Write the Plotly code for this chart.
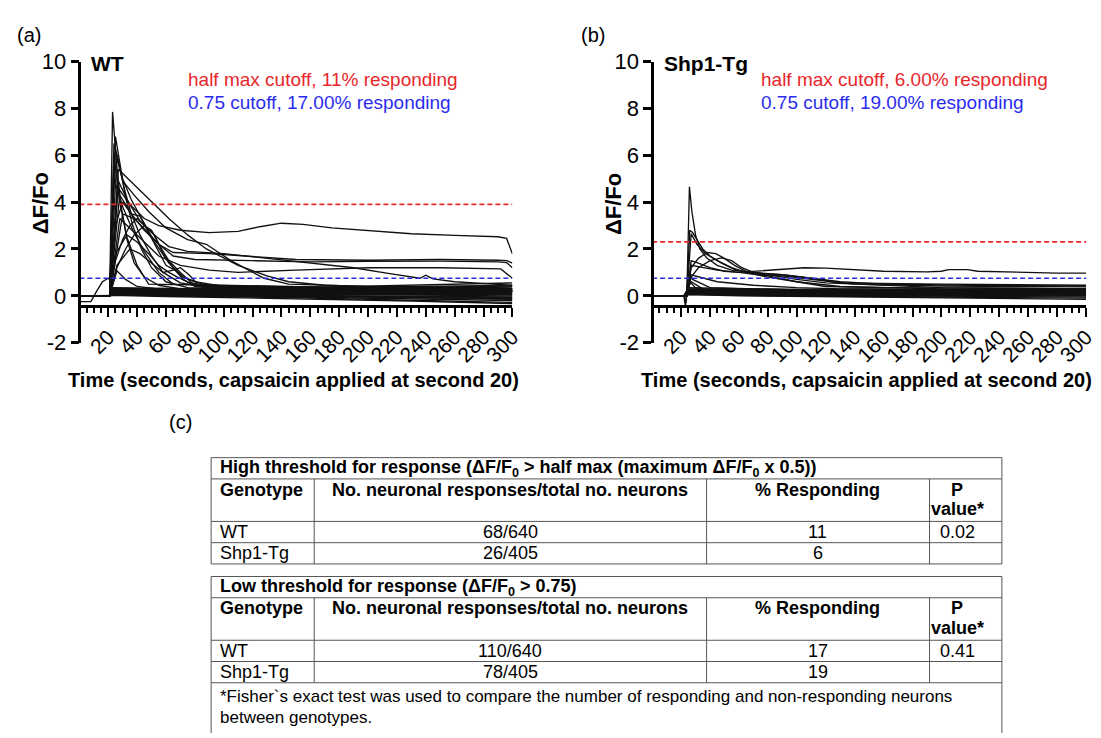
import plotly.graph_objects as go

W, H = 1101, 738

# ---------------- DATA ----------------
x_ticks = list(range(20, 301, 20))
y_ticks = [-2, 0, 2, 4, 6, 8, 10]
y_tick_labels = ["-2", "0", "2", "4", "6", "8", "10"]

panel_labels = ["(a)", "(b)", "(c)"]
genotype_titles = ["WT", "Shp1-Tg"]
half_max_text = ["half max cutoff, 11% responding", "half max cutoff, 6.00% responding"]
low_cut_text = ["0.75 cutoff, 17.00% responding", "0.75 cutoff, 19.00% responding"]
half_max_cutoff = [3.9, 2.3]
low_cutoff = [0.75, 0.75]

# WT responding traces (time s, dF/F0)
wt_resp_t = [
    [0, 21, 23, 26, 29, 33, 38, 45, 55, 70, 100, 150, 200, 250, 300],
    [0, 21, 25, 28, 32, 37, 43, 50, 60, 75, 120, 200, 300],
    [0, 21, 24, 27, 31, 36, 42, 50, 58, 70, 90, 150, 300],
    [0, 21, 25, 30, 36, 44, 52, 62, 72, 85, 110, 200, 300],
    [0, 21, 27, 32, 40, 50, 62, 75, 88, 110, 130, 145, 170, 220, 300],
    [0, 21, 26, 30, 38, 48, 60, 75, 88, 105, 128, 145, 200, 300],
    [0, 21, 27, 35, 45, 55, 70, 90, 110, 125, 140, 155, 175, 200, 230, 260, 290, 296, 300],
    [0, 21, 28, 36, 45, 55, 65, 90, 110, 130, 150, 200, 250, 290, 296, 300],
    [0, 21, 30, 38, 46, 55, 65, 80, 120, 160, 200, 250, 290, 296, 300],
    [0, 21, 28, 35, 45, 55, 70, 90, 110, 150, 200, 250, 292, 300],
    [0, 21, 27, 34, 42, 52, 62, 75, 100, 130, 160, 190, 215, 236, 240, 245, 260, 290, 300],
    [0, 21, 25, 30, 35, 40, 45, 52, 58, 65, 72, 80, 100, 200, 300],
    [0, 21, 26, 32, 38, 45, 50, 56, 62, 70, 78, 90, 150, 300],
    [0, 21, 25, 33, 40, 48, 55, 62, 68, 75, 85, 200, 300],
    [0, 21, 26, 35, 42, 50, 58, 65, 70, 76, 82, 100, 300],
    [0, 21, 26, 32, 40, 60, 300],
    [0, 8, 12, 16, 20, 21, 22, 40, 100, 200, 300],
    [0, 21, 25, 30, 36, 42, 48, 54, 60, 66, 72, 80, 100, 300],
    [0, 21, 24, 28, 33, 40, 48, 300],
    [0, 21, 24, 30, 37, 45, 55, 65, 300],
]
wt_resp_v = [
    [0, 0, 7.85, 5.5, 3.8, 2.4, 1.4, 0.8, 0.45, 0.3, 0.25, 0.2, 0.15, 0.1, 0.05],
    [0, 0, 6.8, 5.6, 4.2, 3.0, 2.0, 1.2, 0.6, 0.35, 0.3, 0.25, 0.2],
    [0, 0, 6.5, 5.8, 4.6, 3.5, 2.6, 1.7, 1.0, 0.55, 0.35, 0.3, 0.25],
    [0, 0, 6.2, 5.0, 4.1, 3.2, 2.3, 1.4, 0.8, 0.5, 0.35, 0.3, 0.2],
    [0, 0, 5.4, 5.1, 4.6, 4.0, 3.3, 2.6, 2.0, 1.3, 0.85, 0.6, 0.45, 0.35, 0.3],
    [0, 0, 5.9, 4.9, 4.3, 3.6, 2.9, 2.4, 2.2, 1.5, 0.75, 0.5, 0.4, 0.3],
    [0, 0, 4.6, 3.9, 3.3, 3.0, 2.8, 2.7, 2.75, 2.95, 3.1, 3.05, 2.9, 2.78, 2.65, 2.58, 2.52, 2.45, 1.8],
    [0, 0, 4.3, 3.5, 2.8, 2.2, 1.85, 1.8, 1.72, 1.62, 1.55, 1.52, 1.55, 1.52, 1.5, 1.4],
    [0, 0, 3.5, 3.3, 2.8, 2.2, 1.7, 1.55, 1.5, 1.45, 1.47, 1.48, 1.45, 1.42, 1.2],
    [0, 0, 3.3, 2.9, 2.3, 1.7, 1.3, 1.1, 1.0, 1.1, 1.2, 1.2, 1.15, 0.75],
    [0, 0, 4.9, 4.0, 3.2, 2.6, 2.1, 1.9, 1.8, 1.6, 1.4, 1.2, 0.95, 0.75, 0.88, 0.72, 0.6, 0.5, 0.45],
    [0, 0, 1.5, 2.4, 3.0, 3.3, 3.0, 2.6, 1.8, 1.2, 0.7, 0.4, 0.3, 0.25, 0.2],
    [0, 0, 1.2, 2.0, 2.6, 3.0, 2.8, 2.1, 1.5, 1.0, 0.55, 0.35, 0.3, 0.2],
    [0, 0, 1.8, 2.6, 2.3, 1.8, 1.3, 1.0, 0.8, 0.6, 0.4, 0.3, 0.2],
    [0, 0, 1.3, 2.0, 1.8, 1.4, 1.0, 1.1, 1.2, 0.9, 0.5, 0.3, 0.2],
    [0, 0, 1.07, 0.7, 0.4, 0.25, 0.15],
    [-0.25, -0.25, 0.2, 0.6, 0.75, 0.7, 0.15, 0.1, 0.05, -0.05, -0.15],
    [0, 0, 3.0, 4.0, 3.5, 3.4, 2.7, 2.0, 1.3, 1.1, 0.8, 0.6, 0.4, 0.3],
    [0, 0, 6.0, 4.0, 2.5, 1.3, 0.5, 0.2],
    [0, 0, 5.0, 3.8, 2.8, 1.9, 1.0, 0.5, 0.2],
]

# WT non-responding traces, shared time points
wt_base_t = [0, 21, 23, 60, 150, 230, 300]
wt_base_v = [
    [0, 0, 0.32, 0.30, 0.35, 0.45, 0.55],
    [0, 0, 0.28, 0.25, 0.30, 0.40, 0.45],
    [0, 0, 0.25, 0.22, 0.22, 0.30, 0.38],
    [0, 0, 0.22, 0.18, 0.20, 0.25, 0.30],
    [0, 0, 0.20, 0.15, 0.12, 0.15, 0.20],
    [0, 0, 0.18, 0.12, 0.10, 0.10, 0.12],
    [0, 0, 0.15, 0.10, 0.05, 0.05, 0.05],
    [0, 0, 0.12, 0.08, 0.02, -0.02, -0.05],
    [0, 0, 0.10, 0.05, -0.02, -0.08, -0.12],
    [0, 0, 0.08, 0.02, -0.05, -0.12, -0.20],
    [0, 0, 0.05, 0.00, -0.08, -0.18, -0.28],
    [0, 0, 0.02, -0.03, -0.12, -0.22, -0.33],
    [0, 0, 0.30, 0.26, 0.20, 0.15, 0.10],
    [0, 0, 0.27, 0.20, 0.15, 0.22, 0.28],
    [0, 0, 0.24, 0.20, 0.28, 0.35, 0.42],
    [0, 0, 0.20, 0.18, 0.22, 0.28, 0.33],
    [0, 0, 0.16, 0.14, 0.18, 0.20, 0.25],
    [0, 0, 0.13, 0.10, 0.08, 0.05, 0.00],
    [0, 0, 0.06, 0.04, 0.00, -0.05, -0.08],
    [0, 0, 0.35, 0.32, 0.26, 0.20, 0.15],
]

# Shp1-Tg responding traces
tg_resp_t = [
    [0, 22, 24, 25.8, 27.5, 30, 33, 38, 45, 55, 70, 90, 110, 130, 160, 220, 300],
    [0, 22, 24, 26, 28, 31, 35, 40, 48, 58, 70, 90, 110, 130, 200, 300],
    [0, 22, 24, 27, 31, 37, 45, 55, 65, 80, 100, 130, 200, 300],
    [0, 22, 24, 27, 32, 38, 44, 50, 57, 65, 75, 90, 110, 125, 140, 200, 300],
    [0, 22, 24, 27, 32, 40, 48, 55, 62, 70, 85, 100, 120, 200, 300],
    [0, 22, 24, 27, 32, 40, 50, 60, 70, 80, 95, 105, 120, 140, 160, 190, 200, 205, 218, 225, 250, 280, 300],
    [0, 22, 23, 24.5, 27, 35, 60, 150, 300],
    [0, 22, 23.2, 25, 28, 40, 100, 300],
    [0, 22, 24, 27, 35, 45, 60, 80, 100, 120, 160, 300],
    [0, 22, 24, 26, 30, 38, 300],
    [0, 22, 24, 27, 33, 45, 70, 100, 130, 300],
]
tg_resp_v = [
    [0, 0, 0, 4.65, 3.6, 2.6, 2.0, 1.6, 1.3, 1.1, 1.0, 0.9, 0.75, 0.6, 0.5, 0.45, 0.42],
    [0, 0, 0, 2.8, 2.7, 2.4, 2.0, 1.7, 1.4, 1.1, 0.95, 0.85, 0.7, 0.55, 0.5, 0.45],
    [0, 0, 0, 2.65, 2.2, 1.8, 1.5, 1.2, 1.0, 0.8, 0.6, 0.4, 0.3, 0.25],
    [0, 0, 0, 1.2, 1.6, 1.85, 1.8, 1.6, 1.3, 1.05, 0.95, 0.9, 0.75, 0.6, 0.5, 0.42, 0.38],
    [0, 0, 0, 0.8, 1.2, 1.5, 1.62, 1.5, 1.2, 1.0, 0.85, 0.7, 0.55, 0.35, 0.3],
    [0, 0, 0, 1.5, 1.4, 1.2, 1.05, 1.0, 1.05, 1.08, 1.15, 1.2, 1.18, 1.1, 1.05, 1.02, 1.05, 1.12, 1.12, 1.05, 1.0, 0.97, 0.97],
    [0, 0, -0.45, 0.3, 0.6, 0.3, 0.2, 0.15, 0.1],
    [0, 0, -0.3, 1.0, 0.7, 0.35, 0.25, 0.2],
    [0, 0, 0, 1.3, 1.2, 1.1, 1.0, 0.85, 0.6, 0.4, 0.35, 0.3],
    [0, 0, 0, 0.6, 0.35, 0.25, 0.15],
    [0, 0, 0, 0.9, 0.8, 0.6, 0.45, 0.35, 0.3, 0.22],
]

tg_base_t = [0, 22, 25, 60, 150, 230, 300]
tg_base_v = [
    [0, 0, 0.30, 0.28, 0.25, 0.28, 0.30],
    [0, 0, 0.25, 0.22, 0.22, 0.25, 0.25],
    [0, 0, 0.22, 0.18, 0.18, 0.20, 0.20],
    [0, 0, 0.20, 0.15, 0.12, 0.15, 0.15],
    [0, 0, 0.18, 0.12, 0.10, 0.10, 0.10],
    [0, 0, 0.15, 0.10, 0.06, 0.05, 0.05],
    [0, 0, 0.12, 0.06, 0.02, 0.00, 0.00],
    [0, 0, 0.10, 0.04, 0.00, -0.04, -0.05],
    [0, 0, 0.08, 0.02, -0.03, -0.08, -0.10],
    [0, 0, 0.05, 0.00, -0.05, -0.10, -0.15],
    [0, 0, 0.28, 0.25, 0.30, 0.22, 0.18],
    [0, 0, 0.20, 0.20, 0.15, 0.12, 0.08],
    [0, 0, 0.14, 0.12, 0.20, 0.18, 0.12],
    [0, 0, 0.35, 0.30, 0.20, 0.15, 0.10],
    [0, 0, 0.06, 0.05, 0.08, 0.06, 0.02],
]

# Table (c)
table_titles = [
    "High threshold for response (ΔF/F<sub>0</sub> > half max (maximum ΔF/F<sub>0</sub> x 0.5))",
    "Low threshold for response (ΔF/F<sub>0</sub> > 0.75)",
]
col_headers = ["Genotype", "No. neuronal responses/total no. neurons", "% Responding", "P", "value*"]
genotypes = ["WT", "Shp1-Tg"]
high_counts = ["68/640", "26/405"]
high_pct = ["11", "6"]
high_p = ["0.02", ""]
low_counts = ["110/640", "78/405"]
low_pct = ["17", "19"]
low_p = ["0.41", ""]
footnote = ["*Fisher`s exact test was used to compare the number of responding and non-responding neurons",
            "between genotypes."]

# ---------------- FIGURE ----------------
def px(x):
    return x / W

def py(y):
    return 1 - y / H

FONT = "Liberation Sans, Arial, Helvetica, sans-serif"

fig = go.Figure()
line_style = dict(color="#111111", width=1.35)

panels = [
    ("x", "y", wt_base_t, wt_base_v, wt_resp_t, wt_resp_v),
    ("x2", "y2", tg_base_t, tg_base_v, tg_resp_t, tg_resp_v),
]
for i, (xa, ya, bt, bv, rt, rv) in enumerate(panels):
    for vals in bv:
        fig.add_trace(go.Scatter(x=bt, y=vals, mode="lines", line=line_style,
                                 xaxis=xa, yaxis=ya, showlegend=False, hoverinfo="skip"))
    for tt, vals in zip(rt, rv):
        fig.add_trace(go.Scatter(x=tt, y=vals, mode="lines", line=line_style,
                                 xaxis=xa, yaxis=ya, showlegend=False, hoverinfo="skip"))
    fig.add_trace(go.Scatter(x=[0, 300], y=[half_max_cutoff[i]] * 2, mode="lines",
                             line=dict(color="#e8262a", width=1.7, dash="5px,3px"),
                             xaxis=xa, yaxis=ya, showlegend=False, hoverinfo="skip"))
    fig.add_trace(go.Scatter(x=[0, 300], y=[low_cutoff[i]] * 2, mode="lines",
                             line=dict(color="#2b2bf0", width=1.7, dash="5px,3px"),
                             xaxis=xa, yaxis=ya, showlegend=False, hoverinfo="skip"))

ydom = [py(334), py(43)]
xdoms = [[px(72), px(509)], [px(650), px(1088)]]
xpos = py(296)

def xaxis_cfg(dom):
    return dict(domain=dom, range=[0, 300], anchor="free", position=xpos,
                showline=True, linewidth=2.5, linecolor="black", mirror=False,
                ticks="outside", ticklen=9, tickwidth=2, tickcolor="black",
                tickmode="array", tickvals=x_ticks, tickangle=-45,
                tickfont=dict(family=FONT, size=21, color="black"),
                minor=dict(ticks="outside", ticklen=5, tickwidth=2, tickcolor="black",
                           tickmode="linear", tick0=0, dtick=5),
                showgrid=False, zeroline=False)

def yaxis_cfg(xstart):
    return dict(domain=ydom, range=[-2, 10], anchor="free", position=xstart,
                showline=True, linewidth=2.5, linecolor="black",
                ticks="outside", ticklen=8, tickwidth=2.5, tickcolor="black",
                tickmode="array", tickvals=y_ticks, ticktext=y_tick_labels,
                tickfont=dict(family=FONT, size=22, color="black"),
                showgrid=False, zeroline=False)

fig.update_layout(
    width=W, height=H, margin=dict(l=0, r=0, t=0, b=0),
    paper_bgcolor="white", plot_bgcolor="white",
    xaxis=xaxis_cfg(xdoms[0]), yaxis=yaxis_cfg(xdoms[0][0]),
    xaxis2=xaxis_cfg(xdoms[1]), yaxis2=yaxis_cfg(xdoms[1][0]),
)

ann = []
def add_text(x, y, text, size=18, color="black", xanchor="left", yanchor="middle",
             angle=0, align="left"):
    ann.append(dict(x=px(x), y=py(y), xref="paper", yref="paper", text=text,
                    showarrow=False, xanchor=xanchor, yanchor=yanchor, align=align,
                    textangle=angle, borderpad=0,
                    font=dict(family=FONT, size=size, color=color)))

# panel texts
add_text(8, 16, panel_labels[0], size=20)
add_text(577, 16, panel_labels[1], size=20)
add_text(161, 416, panel_labels[2], size=20)
for i, x0 in enumerate([72, 650]):
    add_text(x0 + 11, 45, "<b>%s</b>" % genotype_titles[i], size=21)
    add_text(x0 + 109, 62, half_max_text[i], size=19, color="#e8262a")
    add_text(x0 + 109, 85, low_cut_text[i], size=19, color="#2b2bf0")
    add_text(x0 - 39, 190, "<b>ΔF/Fo</b>", size=22, xanchor="center", angle=-90)
    add_text(x0 + 216, 373, "<b>Time (seconds, capsaicin applied at second 20)</b>",
             size=20, xanchor="center")

# ---------------- TABLE ----------------
shapes = []
def hline(x0, x1, y):
    shapes.append(dict(type="line", xref="paper", yref="paper", x0=px(x0), x1=px(x1),
                       y0=py(y), y1=py(y), line=dict(color="#555555", width=1)))
def vline(x, y0, y1):
    shapes.append(dict(type="line", xref="paper", yref="paper", x0=px(x), x1=px(x),
                       y0=py(y0), y1=py(y1), line=dict(color="#555555", width=1)))

TL, TR = 205, 1003
cols = [309, 705, 930]
col_centers = [507, 817, 958]
tables = [(453, high_counts, high_pct, high_p), (576, low_counts, low_pct, low_p)]
for k, (top, counts, pct, pv) in enumerate(tables):
    rows = [top, top + 22, top + 66, top + 88, top + 110]
    for r in rows:
        hline(TL, TR, r)
    vline(TL, top, rows[-1] if k == 0 else 738)
    vline(TR, top, rows[-1] if k == 0 else 738)
    for c in cols:
        vline(c, rows[1], rows[-1])
    add_text(213, top + 11, "<b>%s</b>" % table_titles[k], size=18)
    add_text(213, top + 33, "<b>%s</b>" % col_headers[0], size=18)
    add_text(col_centers[0], top + 33, "<b>%s</b>" % col_headers[1], size=18, xanchor="center")
    add_text(col_centers[1], top + 33, "<b>%s</b>" % col_headers[2], size=18, xanchor="center")
    add_text(col_centers[2], top + 33, "<b>%s</b>" % col_headers[3], size=18, xanchor="center")
    add_text(col_centers[2], top + 53, "<b>%s</b>" % col_headers[4], size=18, xanchor="center")
    for r in range(2):
        yc = top + 77 + 22 * r
        add_text(213, yc, genotypes[r], size=18)
        add_text(col_centers[0], yc, counts[r], size=18, xanchor="center")
        add_text(col_centers[1], yc, pct[r], size=18, xanchor="center")
        if pv[r]:
            add_text(col_centers[2], yc, pv[r], size=18, xanchor="center")

add_text(213, 700, footnote[0], size=17)
add_text(213, 722, footnote[1], size=17)

fig.update_layout(annotations=ann, shapes=shapes)
fig.write_html("out.html")
